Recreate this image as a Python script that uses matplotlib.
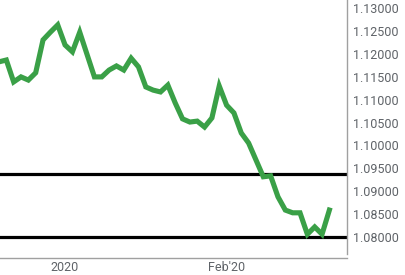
import matplotlib
matplotlib.use("Agg")
import matplotlib.pyplot as plt
import numpy as np

plt.rcParams['font.family'] = ['Roboto', 'DejaVu Sans']

prices = [1.1183, 1.1187, 1.1139, 1.1150, 1.1143, 1.1159, 1.1231, 1.1248, 1.1264,
          1.1220, 1.1205, 1.1248, 1.1199, 1.1150, 1.1150, 1.1165, 1.1174, 1.1165,
          1.1191, 1.1172, 1.1128, 1.1121, 1.1117, 1.1132, 1.1093, 1.1058, 1.1051,
          1.1053, 1.1040, 1.1060, 1.1130, 1.1088, 1.1071, 1.1027, 1.1005, 1.0968,
          1.0931, 1.0933, 1.0887, 1.0858, 1.0852, 1.0852, 1.0805, 1.0821, 1.0805,
          1.0858]
levels = [1.0937, 1.0800]
yticks = [1.13, 1.125, 1.12, 1.115, 1.11, 1.105, 1.10, 1.095, 1.09, 1.085, 1.08]
xtick_pos = [9, 31]
xtick_labels = ['2020', "Feb'20"]

W, H = 405, 275
fig = plt.figure(figsize=(W / 100, H / 100), dpi=100)
ax = fig.add_axes([0, 17 / H, 347 / W, 1 - 17 / H])

x = np.arange(len(prices))
ax.plot(x, prices, color='#3aa047', lw=3.7, solid_joinstyle='miter', zorder=3)
for lv in levels:
    ax.axhline(lv, color='black', lw=2.3, zorder=2)

ax.set_xlim(0.14, 47.4)
ax.set_ylim(1.07529, 1.13186)

ax.yaxis.tick_right()
ax.set_yticks(yticks)
ax.set_yticklabels([f'{v:.5f}' for v in yticks])
ax.set_xticks(xtick_pos)
ax.set_xticklabels(xtick_labels)
ax.tick_params(axis='both', length=0, labelsize=9, colors='#5f6368')
ax.tick_params(axis='y', pad=4)
ax.tick_params(axis='x', pad=2)

for s in ['top', 'left']:
    ax.spines[s].set_visible(False)
ax.spines['bottom'].set_color('#a0a0a0')
ax.spines['bottom'].set_linewidth(1)
ax.spines['right'].set_color('#a0a0a0')
ax.spines['right'].set_linewidth(1)
ax.spines['right'].set_bounds(1.13 - (254 - 8.5) / 4560, 1.13186)

fig.savefig('out.png', dpi=100)
